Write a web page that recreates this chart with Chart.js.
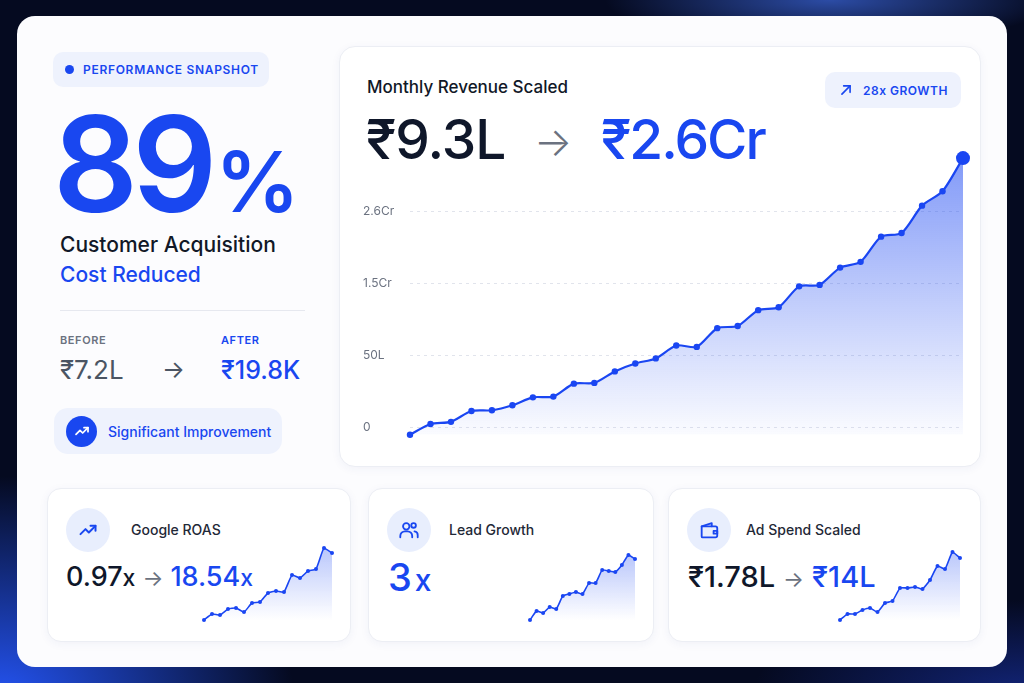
<!DOCTYPE html>
<html lang="en">
<head>
  <meta charset="UTF-8" />
  <title>Performance Snapshot</title>
  <script src="https://cdn.jsdelivr.net/npm/chart.js"></script>
  <style>
    :root {
      --blue: #1947f0;
      --ink: #0f172a;
      --muted: #6b7280;
      --pill: #eef2fd;
      --line: #eceef4;
    }

    html, body {
      margin: 0;
      width: 1024px;
      height: 683px;
      overflow: hidden;
      font-family: 'Inter', 'Noto Sans', sans-serif;
    }

    .bg {
      position: absolute;
      inset: 0;
      background:
        radial-gradient(ellipse 420px 320px at 0px 700px, rgba(38, 88, 255, 0.95), transparent 70%),
        radial-gradient(ellipse 300px 60px at 830px 0px, rgba(70, 120, 255, 0.6), transparent 75%),
        radial-gradient(ellipse 360px 120px at 1024px 690px, rgba(30, 60, 200, 0.5), transparent 75%),
        #050a20;
    }

    .frame {
      position: absolute;
      left: 17px; top: 16px;
      width: 990px; height: 651px;
      border-radius: 18px;
      background: #fcfcfe;
    }

    .abs { position: absolute; line-height: 1; white-space: nowrap; }

    .pill {
      position: absolute;
      display: flex;
      align-items: center;
      background: var(--pill);
      color: var(--blue);
    }

    .snapshot {
      left: 53px; top: 52px; width: 216px; height: 35px;
      border-radius: 10px;
      font-size: 12px; font-weight: 600; letter-spacing: 0.7px;
    }
    .snapshot .dot {
      width: 9px; height: 9px; border-radius: 50%;
      background: var(--blue);
      margin: 0 9px 0 12px;
    }

    .big {
      left: 53px; top: 97px;
      font-size: 133px; font-weight: 600; letter-spacing: -6px;
      color: var(--blue);
    }
    .big span { font-size: 84px; letter-spacing: 0; margin-left: 4px; }

    .subtitle { left: 60px; font-size: 21px; font-weight: 500; }

    .divider {
      position: absolute; left: 60px; top: 310px;
      width: 245px; height: 1px; background: #e6e8ef;
    }

    .caption { font-size: 11px; font-weight: 600; letter-spacing: 0.6px; top: 335px; }
    .money { font-size: 26px; top: 357px; }

    .improve {
      left: 54px; top: 408px; width: 228px; height: 46px;
      border-radius: 14px;
      font-size: 14px; font-weight: 500;
    }
    .improve .ic {
      width: 31px; height: 31px; border-radius: 50%;
      background: var(--blue);
      margin: 0 11px 0 12px;
      display: flex; align-items: center; justify-content: center;
    }

    .card {
      position: absolute;
      background: #fff;
      border: 1px solid var(--line);
      box-shadow: 0 2px 10px rgba(30, 50, 140, 0.05);
    }

    .growth {
      left: 825px; top: 72px; width: 136px; height: 36px;
      border-radius: 10px;
      font-size: 12px; font-weight: 600; letter-spacing: 0.5px;
    }
    .growth svg { margin: 0 10px 0 14px; }

    .icon-circle {
      position: absolute;
      width: 44px; height: 44px; border-radius: 50%;
      background: #e8eefd;
      display: flex; align-items: center; justify-content: center;
    }

    .card-title { font-size: 14px; font-weight: 500; color: #1f2937; top: 523px; }
    .card-value { font-size: 27px; font-weight: 500; color: var(--ink); top: 563px; }
    .card-value small { font-size: 23px; }
    .card-value .arr { color: #6b7280; font-weight: 400; margin: 0 7px; font-size: 22px; }
    .card-value .hi { color: var(--blue); }

    canvas { position: absolute; }
  </style>
</head>
<body>
  <div class="bg"></div>
  <div class="frame"></div>

  <!-- Left summary -->
  <div class="pill snapshot"><div class="dot"></div>PERFORMANCE SNAPSHOT</div>
  <div class="abs big">89<span>%</span></div>
  <div class="abs subtitle" style="top:234px;color:#111827;">Customer Acquisition</div>
  <div class="abs subtitle" style="top:264px;color:var(--blue);">Cost Reduced</div>
  <div class="divider"></div>
  <div class="abs caption" style="left:60px;color:var(--muted);">BEFORE</div>
  <div class="abs caption" style="left:221px;color:var(--blue);">AFTER</div>
  <div class="abs money" style="left:60px;color:#4b5563;">₹7.2L</div>
  <div class="abs money" style="left:162px;color:#4b5563;font-size:24px;top:358px;">→</div>
  <div class="abs money" style="left:221px;color:var(--blue);font-weight:500;font-size:25px;top:358px;">₹19.8K</div>
  <div class="pill improve">
    <div class="ic">
      <svg width="16" height="16" viewBox="0 0 24 24" fill="none" stroke="#fff" stroke-width="2.6" stroke-linecap="round" stroke-linejoin="round">
        <polyline points="3 17 9 11 13 15 21 7"></polyline><polyline points="15 7 21 7 21 13"></polyline>
      </svg>
    </div>
    Significant Improvement
  </div>

  <!-- Main revenue card -->
  <div class="card" style="left:339px;top:46px;width:640px;height:419px;border-radius:16px;"></div>
  <div class="abs" style="left:367px;top:79px;font-size:17px;font-weight:500;color:#111827;">Monthly Revenue Scaled</div>
  <div class="abs" style="left:366px;top:112px;font-size:55px;font-weight:500;letter-spacing:-1px;color:var(--ink);">₹9.3L</div>
  <div class="abs" style="left:534px;top:122px;font-size:40px;font-weight:300;color:#6b7280;">→</div>
  <div class="abs" style="left:601px;top:112px;font-size:55px;font-weight:500;letter-spacing:-2px;color:var(--blue);">₹2.6Cr</div>
  <div class="pill growth">
    <svg width="14" height="14" viewBox="0 0 24 24" fill="none" stroke="#1947f0" stroke-width="2.8" stroke-linecap="round" stroke-linejoin="round">
      <line x1="5" y1="19" x2="19" y2="5"></line><polyline points="8 5 19 5 19 16"></polyline>
    </svg>
    28x GROWTH
  </div>
  <canvas id="revenueChart" style="left:355px;top:145px;width:615px;height:300px;" width="615" height="300"></canvas>

  <!-- Bottom cards -->
  <div class="card" style="left:47px;top:488px;width:302px;height:152px;border-radius:14px;"></div>
  <div class="card" style="left:368px;top:488px;width:284px;height:152px;border-radius:14px;"></div>
  <div class="card" style="left:668px;top:488px;width:311px;height:152px;border-radius:14px;"></div>

  <div class="icon-circle" style="left:66px;top:508px;">
    <svg width="20" height="20" viewBox="0 0 24 24" fill="none" stroke="#1947f0" stroke-width="2.4" stroke-linecap="round" stroke-linejoin="round">
      <polyline points="3 17 9 11 13 15 21 7"></polyline><polyline points="15 7 21 7 21 13"></polyline>
    </svg>
  </div>
  <div class="icon-circle" style="left:387px;top:508px;">
    <svg width="22" height="22" viewBox="0 0 24 24" fill="none" stroke="#1947f0" stroke-width="2" stroke-linecap="round" stroke-linejoin="round">
      <circle cx="9" cy="8" r="3.5"></circle><path d="M2.5 20v-1.5a5 5 0 0 1 5-5h3a5 5 0 0 1 5 5V20"></path>
      <circle cx="17" cy="7" r="2.5"></circle><path d="M18 13.5a4 4 0 0 1 3.5 4V20"></path>
    </svg>
  </div>
  <div class="icon-circle" style="left:687px;top:508px;">
    <svg width="22" height="22" viewBox="0 0 24 24" fill="none" stroke="#1947f0" stroke-width="2" stroke-linecap="round" stroke-linejoin="round">
      <path d="M4 8h15a2 2 0 0 1 2 2v8a2 2 0 0 1-2 2H5a1 1 0 0 1-1-1V8z"></path>
      <path d="M4 8l11-3.5V8"></path><path d="M17 13h4v3h-4z"></path>
    </svg>
  </div>

  <div class="abs card-title" style="left:131px;">Google ROAS</div>
  <div class="abs card-title" style="left:449px;">Lead Growth</div>
  <div class="abs card-title" style="left:746px;">Ad Spend Scaled</div>

  <div class="abs card-value" style="left:66px;">0.97<small>x</small><span class="arr">→</span><span class="hi">18.54<small>x</small></span></div>
  <div class="abs card-value" style="left:388px;top:558px;font-size:38px;color:var(--blue);">3<small style="font-size:30px;margin-left:3px;">x</small></div>
  <div class="abs card-value" style="left:688px;top:562px;font-size:29px;">₹1.78L<span class="arr" style="margin:0 8px;">→</span><span class="hi">₹14L</span></div>

  <canvas id="roasChart" style="left:200px;top:544px;width:136px;height:80px;" width="136" height="80"></canvas>
  <canvas id="leadChart" style="left:526px;top:551px;width:113px;height:73px;" width="113" height="73"></canvas>
  <canvas id="spendChart" style="left:836px;top:548px;width:128px;height:76px;" width="128" height="76"></canvas>

  <script>
    // Monthly revenue, in grid units (0 = "0", 1 = "50L", 2 = "1.5Cr", 3 = "2.6Cr")
    const revenueMonths = ['M1', 'M2', 'M3', 'M4', 'M5', 'M6', 'M7', 'M8', 'M9', 'M10', 'M11', 'M12', 'M13', 'M14',
      'M15', 'M16', 'M17', 'M18', 'M19', 'M20', 'M21', 'M22', 'M23', 'M24', 'M25', 'M26', 'M27', 'M28'];
    const revenueValues = [-0.10, 0.05, 0.08, 0.23, 0.24, 0.31, 0.42, 0.43, 0.61, 0.62, 0.78, 0.89, 0.96, 1.14,
      1.12, 1.38, 1.41, 1.63, 1.67, 1.96, 1.98, 2.22, 2.30, 2.65, 2.70, 3.08, 3.28, 3.74];
    const revenueTickValues = [0, 1, 2, 3];
    const revenueTickLabels = ['0', '50L', '1.5Cr', '2.6Cr'];

    // Sparklines (relative index values)
    const sparkPeriods = ['P1', 'P2', 'P3', 'P4', 'P5', 'P6', 'P7', 'P8', 'P9', 'P10', 'P11', 'P12', 'P13', 'P14', 'P15', 'P16', 'P17'];
    const roasValues = [0, 6, 5, 11, 12, 8, 17, 18, 27, 29, 28, 45, 42, 49, 51, 72, 67];
    const leadValues = [0, 9, 7, 13, 11, 24, 26, 28, 26, 37, 37, 50, 49, 48, 55, 65, 61];
    const spendValues = [0, 6, 6, 10, 12, 8, 17, 19, 32, 32, 33, 31, 40, 54, 51, 68, 62];

    const BLUE = '#1a46f2';

    function areaGradient(topAlpha, bottomAlpha) {
      return (ctx) => {
        const chart = ctx.chart;
        const area = chart.chartArea;
        if (!area) return 'rgba(26, 70, 242, 0.2)';
        const g = chart.ctx.createLinearGradient(0, area.top, 0, area.bottom);
        g.addColorStop(0, `rgba(26, 70, 242, ${topAlpha})`);
        g.addColorStop(1, `rgba(26, 70, 242, ${bottomAlpha})`);
        return g;
      };
    }

    function initRevenueChart() {
      const radii = revenueValues.map((v, i) => i === revenueValues.length - 1 ? 7 : 3.2);
      new Chart(document.getElementById('revenueChart'), {
        type: 'line',
        data: {
          labels: revenueMonths,
          datasets: [{
            data: revenueValues,
            borderColor: BLUE,
            borderWidth: 2.2,
            backgroundColor: areaGradient(0.55, 0.02),
            fill: 'start',
            tension: 0.25,
            pointRadius: radii,
            pointBackgroundColor: BLUE,
            pointBorderWidth: 0,
            clip: false
          }]
        },
        options: {
          responsive: false,
          animation: false,
          layout: { padding: { left: 8, right: 6, top: 10, bottom: 6 } },
          plugins: { legend: { display: false }, tooltip: { enabled: false } },
          scales: {
            x: { display: false, offset: false },
            y: {
              min: -0.1,
              max: 3.78,
              afterBuildTicks: (scale) => {
                scale.ticks = revenueTickValues.map(v => ({ value: v }));
              },
              afterFit: (scale) => { scale.width = 47; },
              border: { display: false, dash: [3, 4] },
              grid: { color: '#e1e4ec', drawTicks: false },
              ticks: {
                crossAlign: 'far',
                color: '#6b7280',
                font: { family: 'Inter', size: 12 },
                callback: (value, index) => revenueTickLabels[index]
              }
            }
          }
        }
      });
    }

    function createSpark(id, values) {
      return new Chart(document.getElementById(id), {
        type: 'line',
        data: {
          labels: sparkPeriods,
          datasets: [{
            data: values,
            borderColor: BLUE,
            borderWidth: 1.6,
            backgroundColor: areaGradient(0.3, 0.0),
            fill: 'start',
            tension: 0.15,
            pointRadius: 2,
            pointBackgroundColor: BLUE,
            pointBorderWidth: 0,
            clip: false
          }]
        },
        options: {
          responsive: false,
          animation: false,
          layout: { padding: 4 },
          plugins: { legend: { display: false }, tooltip: { enabled: false } },
          scales: {
            x: { display: false },
            y: { display: false, min: Math.min(...values), max: Math.max(...values) }
          }
        }
      });
    }

    document.addEventListener('DOMContentLoaded', () => {
      Chart.defaults.font.family = 'Inter';
      initRevenueChart();
      createSpark('roasChart', roasValues);
      createSpark('leadChart', leadValues);
      createSpark('spendChart', spendValues);
    });
  </script>
</body>
</html>
